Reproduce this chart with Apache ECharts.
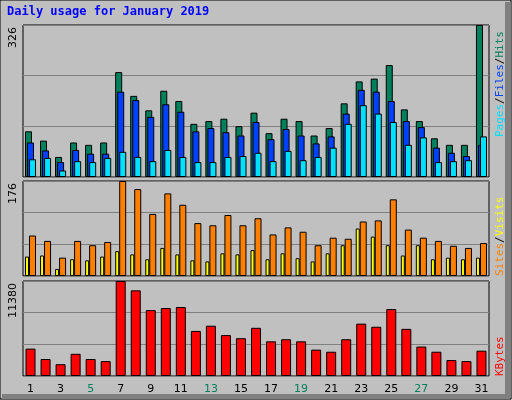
<!DOCTYPE html>
<html><head><meta charset="utf-8">
<script src="https://cdn.jsdelivr.net/npm/echarts@6/dist/echarts.min.js"></script>
<style>html,body{margin:0;padding:0;background:#c0c0c0}#c{width:512px;height:400px}</style>
</head><body><div id="c"></div>
<script>
const days = ['1','2','3','4','5','6','7','8','9','10','11','12','13','14','15','16','17','18','19','20','21','22','23','24','25','26','27','28','29','30','31'];
const weekend = ['5','6','12','13','19','20','26','27'];
const hits  = [98,78,43,74,69,74,225,174,143,185,163,114,120,125,109,138,94,125,120,89,105,158,205,211,240,145,120,83,69,69,326];
const files = [74,57,32,58,50,50,183,165,129,156,140,98,105,96,89,118,81,103,89,72,87,136,187,183,163,120,107,63,52,45,69];
const pages = [38,41,14,34,32,41,54,43,34,58,43,32,32,43,45,52,34,56,36,43,63,114,154,136,118,69,85,32,34,36,87];
const sites = [36,38,13,31,29,36,46,40,31,52,40,29,27,42,40,48,31,42,33,27,42,57,88,73,57,38,57,31,34,31,34];
const visits= [75,65,34,65,57,63,176,161,115,153,132,98,94,113,94,107,77,90,82,57,71,69,101,103,142,86,71,65,56,52,61];
const kbytes= [3281,2035,1412,2658,2035,1786,11380,10258,7891,8140,8264,5399,6022,4901,4527,5773,4153,4402,4153,3156,2907,4402,6271,5897,8015,5648,3530,2907,1910,1786,3032];
const maxLabels = ['326','176','11380'];
const maxVals = [326,176,11380];

const ch = echarts.init(document.getElementById('c'));
const grids = [
  {left:23, right:23, top:25, height:152},
  {left:23, right:23, top:181, height:95},
  {left:23, right:23, top:281, height:95}
];
const bw = {borderColor:'#000', borderWidth:1};
function xa(i){return {type:'category', gridIndex:i, data:days,
  axisLine:{show:false}, axisTick:{show:false},
  axisLabel:{show:i===2, margin:8, fontFamily:'DejaVu Sans', fontSize:11,
    color:(v)=>weekend.includes(v)?'#00805c':'#000'}};}
function ya(i){return {type:'value', gridIndex:i, min:0, max:maxVals[i], interval:maxVals[i]/3,
  axisLine:{show:false}, axisTick:{show:false}, axisLabel:{show:false},
  splitLine:{lineStyle:{color:'#808080', width:1}}};}
const font = 'DejaVu Sans Mono';
ch.setOption({
  backgroundColor:'#c0c0c0', animation:false,
  grid: grids.map(g=>Object.assign({show:true, borderColor:'#000', borderWidth:1, backgroundColor:'#c0c0c0'}, g)),
  xAxis:[xa(0),xa(1),xa(2)],
  yAxis:[ya(0),ya(1),ya(2)],
  series:[
    {type:'bar', xAxisIndex:0, yAxisIndex:0, data:hits, barWidth:7, barGap:'-71%', itemStyle:Object.assign({color:'#00805c'},bw)},
    {type:'bar', xAxisIndex:0, yAxisIndex:0, data:files, barWidth:7, barGap:'-71%', itemStyle:Object.assign({color:'#0040ff'},bw)},
    {type:'bar', xAxisIndex:0, yAxisIndex:0, data:pages, barWidth:7, barGap:'-71%', itemStyle:Object.assign({color:'#00e0ff'},bw)},
    {type:'bar', xAxisIndex:1, yAxisIndex:1, data:sites, barWidth:4, barGap:'0%', itemStyle:Object.assign({color:'#ffff00'},bw)},
    {type:'bar', xAxisIndex:1, yAxisIndex:1, data:visits, barWidth:7, barGap:'0%', itemStyle:Object.assign({color:'#ff8000'},bw)},
    {type:'bar', xAxisIndex:2, yAxisIndex:2, data:kbytes, barWidth:10, itemStyle:Object.assign({color:'#ff0000'},bw)}
  ],
  graphic:[
    {type:'rect', z:-10, shape:{x:0,y:0,width:511,height:399}, style:{fill:'none', stroke:'#000', lineWidth:1}},
    {type:'rect', z:-10, shape:{x:505,y:2,width:6,height:396}, style:{fill:'#808080'}},
    {type:'rect', z:-10, shape:{x:2,y:394,width:508,height:5}, style:{fill:'#808080'}},
    {type:'text', left:7, top:6, style:{text:'Daily usage for January 2019', fill:'#0000ff', font:'bold 12px "DejaVu Sans Mono"'}},
    {type:'text', x:8, y:grids[0].top+2, rotation:Math.PI/2, style:{text:maxLabels[0], fill:'#000', font:'11px "DejaVu Sans"', align:'right', verticalAlign:'top'}},
    {type:'text', x:8, y:grids[1].top+2, rotation:Math.PI/2, style:{text:maxLabels[1], fill:'#000', font:'11px "DejaVu Sans"', align:'right', verticalAlign:'top'}},
    {type:'text', x:8, y:grids[2].top+2, rotation:Math.PI/2, style:{text:maxLabels[2], fill:'#000', font:'11px "DejaVu Sans"', align:'right', verticalAlign:'top'}},
    {type:'text', x:495, y:137, rotation:Math.PI/2, style:{text:'{p|Pages}{s|/}{f|Files}{s|/}{h|Hits}', font:'11px "DejaVu Sans Mono"', verticalAlign:'top',
      rich:{p:{fill:'#00e0ff',font:'11px "DejaVu Sans Mono"'},s:{fill:'#000',font:'11px "DejaVu Sans Mono"'},f:{fill:'#0040ff',font:'11px "DejaVu Sans Mono"'},h:{fill:'#00805c',font:'11px "DejaVu Sans Mono"'}}}},
    {type:'text', x:495, y:276, rotation:Math.PI/2, style:{text:'{a|Sites}{s|/}{b|Visits}', font:'11px "DejaVu Sans Mono"', verticalAlign:'top',
      rich:{a:{fill:'#ff8000',font:'11px "DejaVu Sans Mono"'},s:{fill:'#000',font:'11px "DejaVu Sans Mono"'},b:{fill:'#ffff00',font:'11px "DejaVu Sans Mono"'}}}},
    {type:'text', x:495, y:376, rotation:Math.PI/2, style:{text:'KBytes', fill:'#ff0000', font:'11px "DejaVu Sans Mono"', verticalAlign:'top'}}
  ]
});
</script></body></html>
